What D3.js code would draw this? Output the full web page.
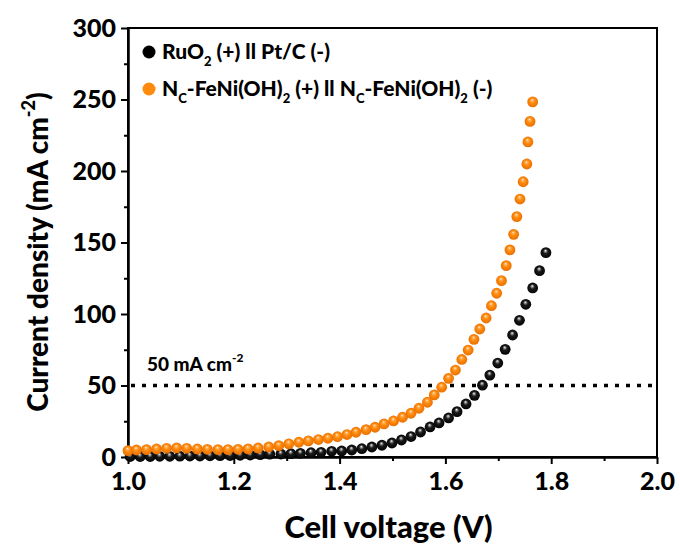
<!DOCTYPE html>
<html><head><meta charset="utf-8">
<script src="https://cdn.jsdelivr.net/npm/d3@7"></script>
<style>
html,body{margin:0;padding:0;background:#fff;}
text{font-family:Lato,"Open Sans",sans-serif;font-weight:900;fill:#000;}
</style></head>
<body><svg id="c" width="680" height="545"></svg>
<script>
// ---- data ----
const seriesNames = ["RuO2 (+) ll Pt/C (-)", "Nc-FeNi(OH)2 (+) ll Nc-FeNi(OH)2 (-)"];
const ruVoltage = [1.004,1.023,1.042,1.060,1.079,1.098,1.117,1.136,1.155,1.174,1.193,1.212,1.231,1.250,1.268,1.289,1.308,1.326,1.346,1.365,1.385,1.404,1.423,1.442,1.461,1.480,1.499,1.517,1.535,1.553,1.571,1.588,1.606,1.622,1.639,1.655,1.670,1.684,1.699,1.713,1.727,1.740,1.752,1.765,1.778,1.790];
const ruCurrent = [0.35,0.35,0.35,0.5,0.5,0.55,0.7,0.7,0.85,0.9,1.05,1.2,1.4,1.7,2.0,2.1,2.3,2.6,3.0,3.3,4.0,4.2,4.9,5.8,7.0,8.2,9.8,11.9,14.3,17.5,21.0,23.8,27.3,31.7,37.1,43.1,50.2,57.3,65.7,75.3,85.3,95.6,106.8,118.2,130.3,142.9];
const ncVoltage = [1.000,1.016,1.035,1.054,1.073,1.092,1.111,1.131,1.150,1.170,1.189,1.208,1.227,1.246,1.266,1.285,1.304,1.323,1.341,1.360,1.378,1.396,1.414,1.431,1.450,1.467,1.484,1.502,1.519,1.535,1.550,1.566,1.579,1.593,1.606,1.619,1.631,1.643,1.654,1.665,1.677,1.687,1.697,1.706,1.715,1.722,1.729,1.735,1.741,1.747,1.754,1.756,1.760,1.765];
const ncCurrent = [4.5,4.9,5.2,5.6,6.1,6.4,6.1,5.6,5.4,5.2,5.2,5.4,5.7,6.3,7.0,8.0,9.2,10.3,11.3,12.2,13.1,14.2,15.7,17.3,19.1,20.8,23.1,25.2,27.8,30.6,34.1,38.3,43.4,48.8,55.0,60.8,68.2,74.8,82.3,89.5,97.2,105.8,114.5,123.3,133.8,144.8,155.7,168.1,180.4,192.5,204.9,220.3,234.7,248.3];
const xTicks = [1.0,1.2,1.4,1.6,1.8,2.0];
const xMinor = [1.1,1.3,1.5,1.7,1.9];
const yTicks = [0,50,100,150,200,250,300];
const yMinor = [25,75,125,175,225,275];
const refLevel = 50;

// ---- layout ----
const L=128,R=657,T=28,B=457;
const svg=d3.select("#c");
const x=d3.scaleLinear().domain([1,2]).range([L,R]);
const y=d3.scaleLinear().domain([0,300]).range([B,T]);

const defs=svg.append("defs");
function sphere(id,stops){
  const g=defs.append("radialGradient").attr("id",id).attr("cx","50%").attr("cy","50%").attr("r","55%").attr("fx","45%").attr("fy","30%");
  stops.forEach(s=>g.append("stop").attr("offset",s[0]).attr("stop-color",s[1]));
}
sphere("gOr",[[0,"#fff4e6"],[0.18,"#ffb25a"],[0.45,"#ff8a0d"],[1,"#e56c00"]]);
sphere("gBk",[[0,"#ffffff"],[0.15,"#9a9a9a"],[0.4,"#1a1a1a"],[1,"#000"]]);

// frame
svg.append("rect").attr("x",L).attr("y",T).attr("width",R-L).attr("height",B-T)
  .attr("fill","none").attr("stroke","#000").attr("stroke-width",2);

// axes
const xa=svg.append("g").attr("transform",`translate(0,${B})`)
  .call(d3.axisBottom(x).tickValues(xTicks).tickFormat(d3.format(".1f")).tickSize(7).tickSizeOuter(0));
const xm=svg.append("g").attr("transform",`translate(0,${B})`)
  .call(d3.axisBottom(x).tickValues(xMinor).tickFormat("").tickSize(4).tickSizeOuter(0));
const ya=svg.append("g").attr("transform",`translate(${L},0)`)
  .call(d3.axisLeft(y).tickValues(yTicks).tickSize(7).tickSizeOuter(0));
const ym=svg.append("g").attr("transform",`translate(${L},0)`)
  .call(d3.axisLeft(y).tickValues(yMinor).tickFormat("").tickSize(4).tickSizeOuter(0));
[xa,xm,ya,ym].forEach(g=>{g.select(".domain").attr("stroke","#000").attr("stroke-width",2);
  g.selectAll(".tick line").attr("stroke","#000").attr("stroke-width",2);});
xa.selectAll(".tick text").attr("font-size",25).attr("dy","0.92em").attr("font-family","Lato").attr("font-weight","900");
ya.selectAll(".tick text").attr("font-size",25).attr("dx","-2").attr("font-family","Lato").attr("font-weight","900");

// reference line
svg.append("line").attr("x1",x(1)+3).attr("x2",R-2).attr("y1",y(refLevel)).attr("y2",y(refLevel))
  .attr("stroke","#000").attr("stroke-width",3.5).attr("stroke-dasharray","4,7");
const rl=svg.append("text").attr("x",147).attr("y",y(refLevel)-15).attr("font-size",19);
rl.append("tspan").text("50 mA cm");
rl.append("tspan").attr("font-size",12).attr("dy",-9).text("-2");

// series
function series(vs,cs,fill){
  svg.append("g").selectAll("circle").data(vs.map((v,i)=>[v,cs[i]])).join("circle")
    .attr("cx",d=>x(d[0])).attr("cy",d=>y(d[1])).attr("r",5.4).attr("fill",fill);
}
series(ruVoltage,ruCurrent,"url(#gBk)");
series(ncVoltage,ncCurrent,"url(#gOr)");

// legend
svg.append("circle").attr("cx",149).attr("cy",52).attr("r",6.5).attr("fill","#000");
svg.append("circle").attr("cx",149).attr("cy",89).attr("r",6.5).attr("fill","#ff8a0d");
const t1=svg.append("text").attr("x",162).attr("y",59).attr("font-size",21);
t1.append("tspan").text("RuO");
t1.append("tspan").attr("font-size",13).attr("dy",7).text("2");
t1.append("tspan").attr("dy",-7).text(" (+) ll Pt/C (-)");
const t2=svg.append("text").attr("x",162).attr("y",96).attr("font-size",21);
t2.append("tspan").text("N");
t2.append("tspan").attr("font-size",13).attr("dy",7).text("C");
t2.append("tspan").attr("dy",-7).text("-FeNi(OH)");
t2.append("tspan").attr("font-size",13).attr("dy",7).text("2");
t2.append("tspan").attr("dy",-7).text(" (+) ll N");
t2.append("tspan").attr("font-size",13).attr("dy",7).text("C");
t2.append("tspan").attr("dy",-7).text("-FeNi(OH)");
t2.append("tspan").attr("font-size",13).attr("dy",7).text("2");
t2.append("tspan").attr("dy",-7).text(" (-)");

// axis titles
svg.append("text").attr("x",(L+R)/2-4).attr("y",538).attr("text-anchor","middle").attr("font-size",31).text("Cell voltage (V)");
const yt=svg.append("text").attr("transform","translate(48,252) rotate(-90)").attr("text-anchor","middle").attr("font-size",28);
yt.append("tspan").text("Current density (mA cm");
yt.append("tspan").attr("font-size",18).attr("dy",-13).text("-2");
yt.append("tspan").attr("dy",13).text(")");
</script></body></html>
